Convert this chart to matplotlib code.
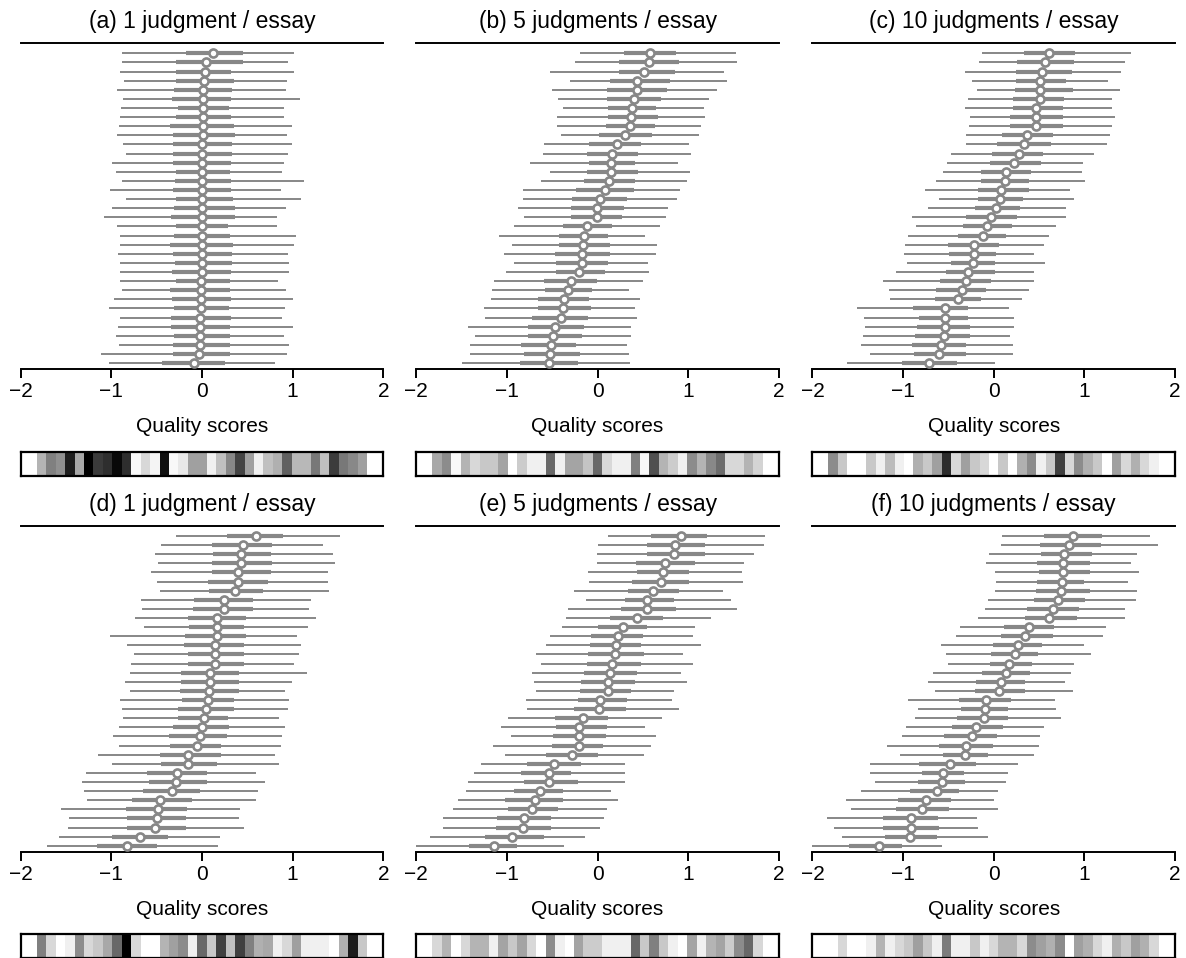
import matplotlib
matplotlib.use("Agg")
import matplotlib.pyplot as plt
import numpy as np

plt.rcParams['font.family'] = ['Liberation Sans', 'DejaVu Sans']

# one row per essay, sorted by median score (top row = highest)
# lo/hi = wide interval, ilo/ihi = inner interval, med = median
lo_a = [-0.88, -0.88, -0.90, -0.86, -0.94, -0.87, -0.89, -0.90, -0.92, -0.94, -0.87, -0.84, -0.99, -0.95, -0.88, -1.02, -0.84, -0.99,
        -1.08, -0.94, -0.90, -0.91, -0.93, -0.91, -0.91, -0.90, -0.88, -0.97, -1.03, -0.90, -0.93, -0.95, -0.92, -1.12, -1.03]
ilo_a = [-0.18, -0.29, -0.29, -0.29, -0.31, -0.33, -0.27, -0.29, -0.35, -0.32, -0.32, -0.32, -0.32, -0.29, -0.30, -0.32, -0.29, -0.31,
         -0.34, -0.29, -0.31, -0.35, -0.32, -0.30, -0.33, -0.29, -0.35, -0.33, -0.31, -0.34, -0.34, -0.31, -0.32, -0.32, -0.44]
med_a = [0.12, 0.04, 0.03, 0.02, 0.01, 0.01, 0.01, 0.01, 0.01, 0.01, 0.00, 0.00, 0.00, 0.00, 0.00, 0.00, 0.00, 0.00,
         0.00, 0.00, 0.00, 0.00, 0.00, 0.00, 0.00, -0.01, -0.01, -0.01, -0.01, -0.02, -0.02, -0.02, -0.02, -0.03, -0.09]
ihi_a = [0.45, 0.45, 0.32, 0.35, 0.33, 0.32, 0.30, 0.32, 0.35, 0.36, 0.33, 0.33, 0.32, 0.31, 0.32, 0.32, 0.34, 0.36,
         0.36, 0.29, 0.31, 0.34, 0.33, 0.33, 0.32, 0.31, 0.31, 0.32, 0.30, 0.32, 0.31, 0.31, 0.31, 0.31, 0.25]
hi_a = [1.01, 0.95, 1.02, 0.94, 0.93, 1.08, 0.90, 0.90, 0.99, 0.94, 0.99, 0.95, 0.90, 0.88, 1.13, 0.87, 1.09, 0.93,
        0.83, 0.83, 1.04, 1.02, 0.95, 0.96, 0.96, 0.84, 0.93, 1.00, 0.92, 0.88, 1.00, 0.90, 0.96, 0.94, 0.81]

lo_b = [-0.19, -0.25, -0.52, -0.30, -0.50, -0.44, -0.38, -0.45, -0.45, -0.40, -0.59, -0.60, -0.74, -0.52, -0.62, -0.82, -0.82, -0.88,
        -0.81, -0.92, -1.09, -0.94, -1.03, -0.92, -1.01, -1.14, -1.17, -1.18, -1.25, -1.24, -1.43, -1.35, -1.41, -1.41, -1.50]
ilo_b = [0.29, 0.24, 0.24, 0.14, 0.10, 0.10, 0.11, 0.11, 0.09, 0.02, -0.10, -0.12, -0.10, -0.12, -0.15, -0.24, -0.28, -0.29,
         -0.29, -0.38, -0.43, -0.43, -0.47, -0.46, -0.46, -0.59, -0.58, -0.66, -0.66, -0.72, -0.77, -0.77, -0.84, -0.81, -0.86]
med_b = [0.58, 0.57, 0.51, 0.44, 0.43, 0.40, 0.38, 0.37, 0.36, 0.30, 0.21, 0.16, 0.15, 0.15, 0.13, 0.08, 0.03, -0.01,
         -0.01, -0.12, -0.15, -0.16, -0.17, -0.17, -0.21, -0.29, -0.33, -0.37, -0.38, -0.40, -0.47, -0.49, -0.51, -0.52, -0.54]
ihi_b = [0.87, 0.90, 0.85, 0.80, 0.77, 0.70, 0.65, 0.67, 0.63, 0.60, 0.48, 0.45, 0.41, 0.45, 0.41, 0.40, 0.32, 0.29,
         0.27, 0.16, 0.11, 0.14, 0.14, 0.11, 0.08, -0.01, -0.06, -0.09, -0.07, -0.11, -0.15, -0.17, -0.24, -0.19, -0.22]
hi_b = [1.53, 1.54, 1.39, 1.43, 1.32, 1.23, 1.17, 1.19, 1.14, 1.12, 1.01, 1.03, 0.89, 1.02, 0.99, 0.91, 0.88, 0.78,
        0.76, 0.69, 0.52, 0.66, 0.65, 0.56, 0.57, 0.50, 0.35, 0.47, 0.41, 0.43, 0.37, 0.37, 0.33, 0.35, 0.36]

lo_c = [-0.13, -0.16, -0.32, -0.24, -0.18, -0.28, -0.32, -0.26, -0.27, -0.31, -0.31, -0.47, -0.51, -0.56, -0.64, -0.76, -0.60, -0.73,
        -0.90, -0.86, -0.94, -0.98, -0.99, -0.96, -1.08, -1.22, -1.16, -1.14, -1.51, -1.43, -1.42, -1.44, -1.46, -1.36, -1.62]
ilo_c = [0.33, 0.26, 0.25, 0.25, 0.23, 0.21, 0.21, 0.18, 0.18, 0.09, 0.04, -0.02, -0.04, -0.14, -0.14, -0.17, -0.17, -0.21,
         -0.30, -0.34, -0.39, -0.50, -0.49, -0.47, -0.53, -0.59, -0.64, -0.65, -0.89, -0.82, -0.85, -0.87, -0.90, -0.88, -1.01]
med_c = [0.61, 0.57, 0.53, 0.51, 0.51, 0.51, 0.47, 0.47, 0.47, 0.37, 0.33, 0.28, 0.22, 0.14, 0.12, 0.08, 0.07, 0.03,
         -0.03, -0.07, -0.12, -0.22, -0.22, -0.23, -0.28, -0.31, -0.35, -0.39, -0.54, -0.54, -0.54, -0.55, -0.58, -0.60, -0.71]
ihi_c = [0.90, 0.89, 0.86, 0.80, 0.87, 0.78, 0.76, 0.77, 0.77, 0.65, 0.63, 0.54, 0.52, 0.41, 0.39, 0.39, 0.32, 0.29,
         0.26, 0.20, 0.14, 0.06, 0.03, 0.01, 0.01, -0.03, -0.09, -0.14, -0.28, -0.28, -0.26, -0.26, -0.31, -0.31, -0.41]
hi_c = [1.52, 1.45, 1.41, 1.26, 1.39, 1.30, 1.30, 1.34, 1.31, 1.28, 1.25, 1.11, 0.99, 0.97, 1.01, 0.84, 0.89, 0.80,
        0.80, 0.69, 0.61, 0.56, 0.45, 0.57, 0.45, 0.45, 0.39, 0.31, 0.17, 0.22, 0.22, 0.18, 0.21, 0.21, 0.01]

lo_d = [-0.29, -0.45, -0.52, -0.49, -0.56, -0.50, -0.46, -0.67, -0.66, -0.74, -0.64, -1.01, -0.83, -0.75, -0.78, -0.79, -0.85, -0.80,
        -0.91, -0.88, -0.87, -0.92, -0.98, -0.92, -1.15, -0.99, -1.28, -1.32, -1.30, -1.27, -1.56, -1.47, -1.48, -1.58, -1.71]
ilo_d = [0.28, 0.11, 0.12, 0.11, 0.11, 0.07, 0.08, -0.09, -0.10, -0.15, -0.14, -0.19, -0.20, -0.16, -0.16, -0.23, -0.23, -0.24,
         -0.22, -0.26, -0.26, -0.32, -0.36, -0.35, -0.46, -0.45, -0.61, -0.59, -0.65, -0.77, -0.84, -0.83, -0.83, -0.99, -1.16]
med_d = [0.59, 0.45, 0.43, 0.43, 0.40, 0.40, 0.36, 0.24, 0.24, 0.17, 0.17, 0.16, 0.14, 0.14, 0.14, 0.09, 0.09, 0.08,
         0.07, 0.04, 0.02, 0.00, -0.02, -0.06, -0.15, -0.15, -0.28, -0.29, -0.33, -0.46, -0.49, -0.50, -0.52, -0.68, -0.83]
ihi_d = [0.89, 0.77, 0.76, 0.77, 0.76, 0.73, 0.67, 0.56, 0.56, 0.49, 0.46, 0.49, 0.46, 0.46, 0.46, 0.41, 0.41, 0.41,
         0.35, 0.35, 0.29, 0.30, 0.28, 0.21, 0.21, 0.16, 0.06, 0.05, -0.02, -0.11, -0.17, -0.18, -0.18, -0.38, -0.50]
hi_d = [1.52, 1.33, 1.45, 1.47, 1.39, 1.39, 1.40, 1.20, 1.18, 1.26, 1.17, 1.05, 1.09, 1.07, 1.02, 1.16, 0.99, 0.92,
        0.96, 0.95, 0.85, 0.91, 0.88, 0.87, 0.81, 0.85, 0.59, 0.70, 0.62, 0.59, 0.42, 0.41, 0.46, 0.20, 0.18]

lo_e = [0.11, 0.00, -0.01, -0.01, -0.11, -0.09, -0.26, -0.13, -0.33, -0.35, -0.39, -0.52, -0.57, -0.68, -0.62, -0.72, -0.70, -0.68,
        -0.79, -0.78, -0.99, -1.06, -0.96, -1.15, -1.02, -1.29, -1.36, -1.43, -1.45, -1.54, -1.60, -1.71, -1.71, -1.85, -2.05]
ilo_e = [0.59, 0.55, 0.54, 0.42, 0.43, 0.38, 0.34, 0.30, 0.26, 0.14, 0.01, -0.07, -0.08, -0.11, -0.12, -0.15, -0.18, -0.19,
         -0.22, -0.26, -0.47, -0.46, -0.49, -0.50, -0.57, -0.78, -0.85, -0.81, -0.92, -1.02, -0.99, -1.11, -1.12, -1.24, -1.42]
med_e = [0.92, 0.85, 0.84, 0.74, 0.72, 0.70, 0.61, 0.55, 0.54, 0.43, 0.28, 0.22, 0.20, 0.19, 0.16, 0.14, 0.11, 0.11,
         0.03, 0.02, -0.16, -0.20, -0.20, -0.21, -0.28, -0.48, -0.54, -0.54, -0.64, -0.69, -0.72, -0.81, -0.82, -0.94, -1.14]
ihi_e = [1.21, 1.19, 1.18, 1.07, 1.01, 1.01, 0.90, 0.84, 0.86, 0.72, 0.54, 0.50, 0.48, 0.51, 0.48, 0.43, 0.41, 0.37,
         0.32, 0.31, 0.12, 0.10, 0.09, 0.06, 0.00, -0.18, -0.29, -0.22, -0.38, -0.38, -0.44, -0.51, -0.51, -0.59, -0.89]
hi_e = [1.85, 1.84, 1.73, 1.62, 1.59, 1.61, 1.38, 1.47, 1.54, 1.25, 1.08, 1.05, 1.14, 0.94, 1.05, 0.92, 0.99, 0.84,
        0.82, 0.90, 0.71, 0.52, 0.65, 0.59, 0.51, 0.30, 0.30, 0.30, 0.15, 0.23, 0.10, 0.07, 0.03, -0.14, -0.37]

lo_f = [0.09, 0.08, -0.05, -0.08, 0.01, 0.03, 0.01, -0.06, -0.10, -0.17, -0.37, -0.42, -0.58, -0.53, -0.50, -0.67, -0.72, -0.65,
        -0.94, -0.83, -0.87, -0.97, -1.01, -1.18, -1.03, -1.37, -1.36, -1.31, -1.46, -1.63, -1.57, -1.84, -1.76, -1.67, -2.05]
ilo_f = [0.56, 0.51, 0.52, 0.48, 0.50, 0.48, 0.47, 0.45, 0.37, 0.34, 0.11, 0.08, -0.01, -0.03, -0.04, -0.13, -0.20, -0.21,
         -0.38, -0.36, -0.41, -0.46, -0.55, -0.60, -0.56, -0.82, -0.79, -0.83, -0.92, -1.06, -1.08, -1.22, -1.22, -1.20, -1.60]
med_f = [0.88, 0.83, 0.78, 0.77, 0.77, 0.75, 0.74, 0.71, 0.65, 0.61, 0.39, 0.34, 0.27, 0.24, 0.17, 0.14, 0.08, 0.06,
         -0.08, -0.10, -0.11, -0.19, -0.24, -0.31, -0.32, -0.48, -0.56, -0.57, -0.63, -0.75, -0.79, -0.91, -0.91, -0.92, -1.27]
ihi_f = [1.20, 1.18, 1.08, 1.06, 1.06, 1.00, 1.06, 1.01, 0.94, 0.92, 0.67, 0.65, 0.53, 0.49, 0.42, 0.40, 0.34, 0.34,
         0.19, 0.16, 0.16, 0.10, 0.04, -0.01, -0.06, -0.19, -0.33, -0.32, -0.38, -0.47, -0.49, -0.61, -0.60, -0.62, -1.01]
hi_f = [1.72, 1.81, 1.58, 1.52, 1.60, 1.48, 1.58, 1.57, 1.45, 1.45, 1.24, 1.21, 1.00, 1.07, 0.89, 0.85, 0.79, 0.88,
        0.68, 0.69, 0.74, 0.56, 0.51, 0.50, 0.44, 0.27, 0.16, 0.14, 0.05, 0.00, 0.05, -0.18, -0.17, -0.06, -0.57]

# grey level (0 = black, 255 = white) of each cell in the strip under a panel
strip_a = [180, 128, 144, 30, 168, 0, 58, 46, 8, 46, 248, 216, 244, 16, 248, 232, 160, 160, 240, 192, 136, 68, 160, 240,
           192, 176, 96, 184, 184, 120, 192, 60, 120, 136, 160]
strip_b = [168, 140, 248, 180, 216, 200, 200, 164, 255, 204, 240, 240, 104, 240, 164, 164, 196, 104, 216, 240, 240, 128,
           248, 80, 180, 204, 240, 140, 180, 136, 108, 216, 216, 180, 212]
strip_c = [140, 200, 255, 255, 200, 240, 188, 240, 255, 176, 200, 160, 44, 216, 160, 200, 216, 255, 200, 255, 176, 140,
           240, 200, 64, 216, 140, 176, 200, 255, 160, 216, 176, 216, 240]
strip_d = [128, 216, 255, 240, 140, 216, 200, 168, 104, 0, 216, 255, 255, 180, 160, 140, 240, 104, 200, 64, 192, 64, 128,
           176, 168, 240, 216, 160, 240, 240, 240, 255, 176, 28, 200]
strip_e = [216, 180, 255, 216, 180, 180, 240, 164, 200, 164, 216, 255, 140, 240, 255, 164, 204, 204, 240, 240, 240, 104,
           200, 128, 200, 240, 255, 164, 240, 180, 164, 204, 140, 104, 216]
strip_f = [255, 216, 255, 255, 240, 180, 240, 216, 200, 160, 200, 240, 124, 240, 240, 200, 240, 216, 180, 180, 216, 140,
           160, 176, 140, 255, 160, 176, 216, 240, 176, 200, 160, 176, 216]

titles = ["(a) 1 judgment / essay", "(b) 5 judgments / essay", "(c) 10 judgments / essay",
          "(d) 1 judgment / essay", "(e) 5 judgments / essay", "(f) 10 judgments / essay"]

panels = [
    (lo_a, ilo_a, med_a, ihi_a, hi_a, strip_a),
    (lo_b, ilo_b, med_b, ihi_b, hi_b, strip_b),
    (lo_c, ilo_c, med_c, ihi_c, hi_c, strip_c),
    (lo_d, ilo_d, med_d, ihi_d, hi_d, strip_d),
    (lo_e, ilo_e, med_e, ihi_e, hi_e, strip_e),
    (lo_f, ilo_f, med_f, ihi_f, hi_f, strip_f),
]

grey = '#878787'
lefts = [0.0175, 0.3510, 0.6850]
width = 0.3057
main_bottoms = [0.6148, 0.1110]
strip_bottoms = [0.5034, 0.0003]

fig = plt.figure(figsize=(11.86, 9.58), dpi=100)

for k, (lo, ilo, med, ihi, hi, strip) in enumerate(panels):
    row, col = divmod(k, 3)
    ax = fig.add_axes([lefts[col], main_bottoms[row], width, 0.340])
    y = np.arange(len(med))
    ax.hlines(y, lo, hi, color=grey, lw=1.4, zorder=1)
    ax.hlines(y, ilo, ihi, color=grey, lw=3.0, zorder=2)
    ax.plot(med, y, 'o', ms=5.8, mfc='white', mec=grey, mew=1.9, zorder=3)
    ax.set_xlim(-2, 2)
    ax.set_ylim(len(med) - 1 + 0.65, -1.1)
    ax.set_yticks([])
    ax.set_xticks([-2, -1, 0, 1, 2])
    ax.set_xticklabels(['\u22122', '\u22121', '0', '1', '2'])
    ax.tick_params(axis='x', direction='out', length=6.5, width=1.4, labelsize=15, pad=3)
    for side in ['left', 'right']:
        ax.spines[side].set_visible(False)
    for side in ['top', 'bottom']:
        ax.spines[side].set_linewidth(1.4)
    ax.set_xlabel("Quality scores", fontsize=15, labelpad=11.5)
    ax.set_title(titles[k], fontsize=16.5, pad=11)

    sax = fig.add_axes([lefts[col], strip_bottoms[row], width, 0.02505])
    vals = np.array(strip, dtype=float)[None, :]
    sax.pcolormesh(np.arange(len(strip) + 1), [0, 1], vals, cmap='gray', vmin=0, vmax=255)
    sax.set_xlim(-1.7, len(strip) + 1.7)
    sax.set_ylim(0, 1)
    sax.set_xticks([])
    sax.set_yticks([])
    for sp in sax.spines.values():
        sp.set_linewidth(1.6)

fig.savefig("out.png", dpi=100)
